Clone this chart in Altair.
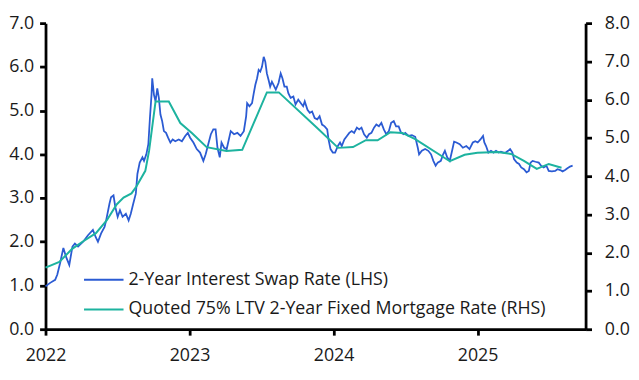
import altair as alt
import pandas as pd

# 2-Year Interest Swap Rate (LHS), years since 2022-01-01 and %
swap_t = [0.000, 0.032, 0.067, 0.082, 0.101, 0.124, 0.142, 0.165, 0.187, 0.204,
          0.226, 0.261, 0.295, 0.329, 0.348, 0.364, 0.386, 0.410, 0.421, 0.444,
          0.455, 0.472, 0.485, 0.501, 0.517, 0.535, 0.558, 0.577, 0.592, 0.609,
          0.627, 0.638, 0.654, 0.673, 0.684, 0.700, 0.714, 0.725, 0.736, 0.741,
          0.753, 0.764, 0.776, 0.787, 0.798, 0.810, 0.822, 0.837, 0.851, 0.867,
          0.883, 0.901, 0.925, 0.947, 0.970, 0.988, 1.004, 1.027, 1.050, 1.073,
          1.096, 1.112, 1.130, 1.148, 1.165, 1.181, 1.194, 1.210, 1.222, 1.240,
          1.258, 1.286, 1.309, 1.332, 1.354, 1.377, 1.393, 1.400, 1.416, 1.434,
          1.446, 1.457, 1.469, 1.480, 1.491, 1.503, 1.515, 1.526, 1.537, 1.549,
          1.560, 1.572, 1.583, 1.599, 1.618, 1.633, 1.645, 1.659, 1.675, 1.686,
          1.702, 1.721, 1.736, 1.755, 1.773, 1.789, 1.800, 1.819, 1.835, 1.851,
          1.869, 1.887, 1.903, 1.920, 1.938, 1.956, 1.965, 1.979, 1.995, 2.011,
          2.030, 2.045, 2.057, 2.075, 2.093, 2.109, 2.126, 2.143, 2.162, 2.178,
          2.194, 2.212, 2.231, 2.246, 2.263, 2.281, 2.297, 2.315, 2.332, 2.349,
          2.366, 2.384, 2.400, 2.418, 2.434, 2.452, 2.469, 2.487, 2.498, 2.521,
          2.544, 2.567, 2.585, 2.594, 2.613, 2.636, 2.658, 2.677, 2.693, 2.709,
          2.723, 2.745, 2.761, 2.773, 2.789, 2.807, 2.823, 2.837, 2.853, 2.876,
          2.898, 2.922, 2.944, 2.967, 2.984, 3.001, 3.020, 3.038, 3.047, 3.059,
          3.075, 3.093, 3.111, 3.128, 3.146, 3.162, 3.180, 3.196, 3.212, 3.226,
          3.242, 3.253, 3.272, 3.288, 3.303, 3.322, 3.340, 3.356, 3.368, 3.382,
          3.402, 3.425, 3.441, 3.459, 3.478, 3.494, 3.516, 3.539, 3.555, 3.574,
          3.590, 3.608, 3.624, 3.642, 3.660]
swap_v = [0.98, 1.06, 1.13, 1.25, 1.51, 1.86, 1.66, 1.47, 1.89, 1.96,
          1.89, 2.00, 2.15, 2.27, 2.11, 2.00, 2.19, 2.34, 2.49, 2.87,
          3.02, 3.06, 2.79, 2.57, 2.72, 2.57, 2.64, 2.49, 2.64, 2.87,
          3.10, 3.55, 3.81, 3.93, 3.85, 4.00, 4.23, 4.83, 5.36, 5.74,
          5.36, 5.21, 5.51, 5.29, 4.91, 4.76, 4.53, 4.49, 4.38, 4.27,
          4.34, 4.30, 4.34, 4.30, 4.42, 4.49, 4.38, 4.27, 4.12, 4.04,
          3.85, 4.00, 4.23, 4.46, 4.57, 4.57, 4.15, 3.93, 4.27, 4.15,
          4.12, 4.53, 4.46, 4.49, 4.42, 4.53, 4.87, 5.17, 5.10, 5.17,
          5.40, 5.59, 5.74, 5.93, 5.89, 6.00, 6.23, 6.12, 5.85, 5.70,
          5.55, 5.66, 5.59, 5.48, 5.63, 5.85, 5.74, 5.55, 5.55, 5.40,
          5.29, 5.32, 5.14, 5.25, 5.17, 5.10, 5.21, 5.02, 4.95, 4.98,
          4.83, 4.80, 4.87, 4.68, 4.64, 4.57, 4.34, 4.12, 4.04, 4.04,
          4.19, 4.27, 4.19, 4.34, 4.42, 4.49, 4.53, 4.49, 4.61, 4.57,
          4.61, 4.46, 4.38, 4.46, 4.49, 4.61, 4.68, 4.64, 4.72, 4.57,
          4.46, 4.53, 4.72, 4.76, 4.64, 4.64, 4.49, 4.46, 4.49, 4.42,
          4.44, 4.40, 4.15, 4.00, 4.08, 4.12, 4.08, 4.00, 3.85, 3.74,
          3.81, 3.85, 4.00, 4.08, 3.93, 3.85, 4.08, 4.29, 4.27, 4.23,
          4.15, 4.19, 4.12, 4.27, 4.30, 4.27, 4.34, 4.42, 4.27, 4.19,
          4.04, 4.08, 4.04, 4.08, 4.04, 4.06, 4.04, 4.04, 4.08, 4.12,
          4.04, 3.89, 3.81, 3.78, 3.70, 3.66, 3.59, 3.62, 3.81, 3.85,
          3.83, 3.81, 3.74, 3.70, 3.74, 3.62, 3.61, 3.62, 3.66, 3.64,
          3.61, 3.64, 3.68, 3.72, 3.74]

# Quoted 75% LTV 2-Year Fixed Mortgage Rate (RHS), years since 2022-01-01 and %
mort_t = [0.000, 0.096, 0.185, 0.254, 0.350, 0.426, 0.494, 0.542, 0.597, 0.631,
          0.693, 0.719, 0.764, 0.856, 0.936, 1.016, 1.119, 1.256, 1.366, 1.537,
          1.620, 1.881, 2.032, 2.135, 2.224, 2.306, 2.395, 2.478, 2.567, 2.807,
          2.910, 2.999, 3.137, 3.233, 3.322, 3.411, 3.494, 3.583]
mort_v = [1.61, 1.76, 2.10, 2.28, 2.51, 2.85, 3.26, 3.44, 3.55, 3.73,
          4.14, 4.66, 5.95, 5.95, 5.39, 5.13, 4.76, 4.66, 4.69, 6.19,
          6.19, 5.28, 4.74, 4.76, 4.94, 4.94, 5.15, 5.13, 4.97, 4.39,
          4.56, 4.61, 4.63, 4.58, 4.40, 4.19, 4.32, 4.22]

series_names = ["2-Year Interest Swap Rate (LHS)",
                "Quoted 75% LTV 2-Year Fixed Mortgage Rate (RHS)"]
series_colors = ["#2B5BD3", "#1DB39F"]
year_ticks = [2022, 2023, 2024, 2025]
left_ticks = [0, 1, 2, 3, 4, 5, 6, 7]
right_ticks = [0, 1, 2, 3, 4, 5, 6, 7, 8]

swap_df = pd.DataFrame({"year": [2022 + t for t in swap_t], "value": swap_v,
                        "series": series_names[0]})
mort_df = pd.DataFrame({"year": [2022 + t for t in mort_t], "value": mort_v,
                        "series": series_names[1]})

FONT = "Open Sans"
FS = 18

x_enc = alt.X("year:Q",
              scale=alt.Scale(domain=[2022, 2025.75], nice=False, zero=False),
              axis=alt.Axis(values=year_ticks, format="d", title=None,
                            labelPadding=12, labelFlush=False))
color_enc = alt.Color("series:N",
                      scale=alt.Scale(domain=series_names, range=series_colors),
                      legend=alt.Legend(title=None, orient="none",
                                        legendX=38, legendY=239,
                                        direction="vertical",
                                        symbolType="stroke",
                                        symbolSize=1600,
                                        symbolStrokeWidth=2,
                                        labelFontSize=FS, labelFont=FONT,
                                        labelColor="#1a1a1a",
                                        labelLimit=600,
                                        rowPadding=0, labelOffset=4))

swap_line = alt.Chart(swap_df).mark_line(strokeWidth=1.8).encode(
    x=x_enc,
    y=alt.Y("value:Q", scale=alt.Scale(domain=[0, 7], nice=False),
            axis=alt.Axis(values=left_ticks, format=".1f", title=None,
                          orient="left", labelPadding=6)),
    color=color_enc,
)

mort_line = alt.Chart(mort_df).mark_line(strokeWidth=2).encode(
    x=x_enc,
    y=alt.Y("value:Q", scale=alt.Scale(domain=[0, 8], nice=False),
            axis=alt.Axis(values=right_ticks, format=".1f", title=None,
                          orient="right", labelPadding=13)),
    color=color_enc,
)

chart = alt.layer(swap_line, mort_line).resolve_scale(
    y="independent"
).properties(
    width=547, height=310,
    autosize=alt.AutoSizeParams(type="none"),
    padding={"left": 38, "top": 13, "right": 46, "bottom": 41},
).configure_view(stroke=None).configure_axis(
    grid=False,
    domainColor="black", domainWidth=2.8,
    tickColor="black", tickWidth=2.8, tickSize=6,
    labelFont=FONT, labelFontSize=FS, labelColor="#1a1a1a",
)

chart.save("out.html", embed_options={"renderer": "svg", "actions": False})
